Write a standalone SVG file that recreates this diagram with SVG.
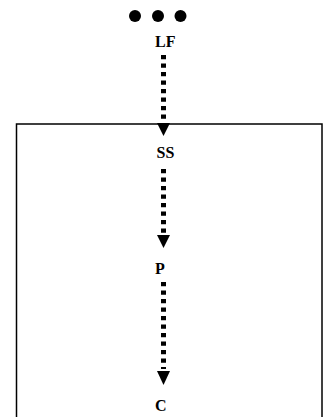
<svg xmlns="http://www.w3.org/2000/svg" width="323" height="417" viewBox="0 0 323 417">
<style>
.lbl{font-family:"Liberation Serif","Times New Roman",serif;font-size:16px;font-weight:bold;fill:#000}
.dash{stroke:#000;stroke-width:5;stroke-dasharray:4.3 4.2;fill:none}
.head{fill:#000}
</style>
<rect width="323" height="417" fill="#fff"/>
<g id="dots">
<circle cx="135" cy="16" r="6" fill="#000"/>
<circle cx="158" cy="16" r="6" fill="#000"/>
<circle cx="180.5" cy="16" r="6" fill="#000"/>
</g>
<g id="box">
<rect x="16.5" y="124" width="305.5" height="320" fill="none" stroke="#000" stroke-width="1.5"/>
</g>
<g id="node-LF"><text class="lbl" x="155" y="46.5">LF</text></g>
<g id="node-SS"><text class="lbl" x="156.5" y="157.5">SS</text></g>
<g id="node-P"><text class="lbl" x="155" y="273.5">P</text></g>
<g id="node-C"><text class="lbl" x="155" y="411">C</text></g>
<g id="connectors">
<line class="dash" x1="163.5" y1="55" x2="163.5" y2="122"/>
<polygon class="head" points="157,123 170,123 163.5,136"/>
<line class="dash" x1="163.5" y1="169" x2="163.5" y2="234"/>
<polygon class="head" points="157,235 170,235 163.5,248"/>
<line class="dash" x1="163.5" y1="282" x2="163.5" y2="369"/>
<polygon class="head" points="157,371 170,371 163.5,385"/>
</g>
</svg>
